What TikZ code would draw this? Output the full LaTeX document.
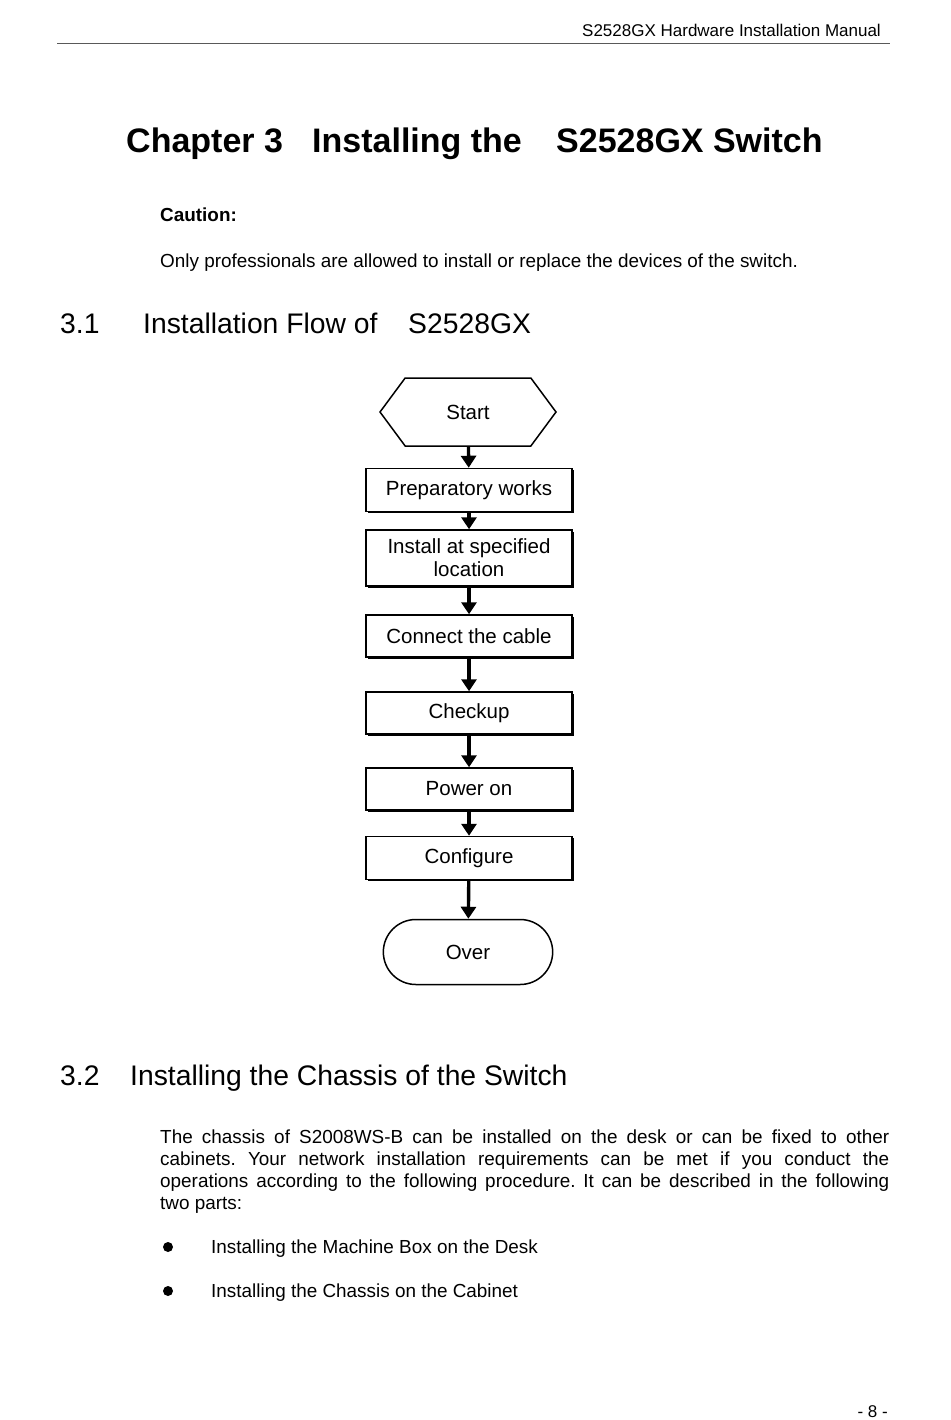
\documentclass[tikz,border=0pt]{standalone}
\usepackage{fontspec}
\setmainfont{Liberation Sans}
\usetikzlibrary{arrows.meta,shapes.symbols,shapes.misc,shadows}

\tikzset{
  txt/.style={inner sep=0pt, anchor=base west},
  flowbox/.style={draw, line width=1.5pt, fill=white, minimum width=206pt,
    minimum height=43pt, inner sep=2pt, align=center,
    font=\fontsize{20.5}{23}\selectfont,
    drop shadow={shadow xshift=1.6pt, shadow yshift=-1.6pt, fill=black, opacity=1}},
  flowend/.style={draw, line width=1.5pt, fill=white, minimum width=176pt,
    font=\fontsize{20.5}{23}\selectfont},
  flowarrow/.style={line width=3.4pt, -{Triangle[width=15pt,length=12pt]}},
}

\begin{document}
\frenchspacing
\begin{tikzpicture}[x=1pt, y=-1pt]
	
	% Seitenrahmen
	\useasboundingbox (0,0) rectangle (950,1420);
	
	% Kopfzeile
	\node[inner sep=0pt, anchor=base east, font=\fontsize{17}{20}\selectfont] (kopf) at (881,37) {S2528GX Hardware Installation Manual};
	\draw[line width=0.8pt, gray!70!black] (57,43) -- (890,43);
	
	% Kapitelüberschrift
	\node[txt, font=\fontsize{34}{40}\bfseries] (kap) at (126,153) {Chapter 3};
	\node[txt, font=\fontsize{34}{40}\bfseries] (kapa) at (312,153) {Installing the};
	\node[txt, font=\fontsize{34}{40}\bfseries] (kapb) at (556,153) {S2528GX Switch};
	
	\node[txt, font=\fontsize{18.9}{22}\bfseries] (caution) at (160,222) {Caution:};
	\node[txt, font=\fontsize{18.9}{22}\selectfont] (hinweis) at (160,268) {Only professionals are allowed to install or replace the devices of the switch.};
	
	% Abschnitt 3.1
	\node[txt, font=\fontsize{28.3}{33}\selectfont] (abs1) at (60,333) {3.1};
	\node[txt, font=\fontsize{28.3}{33}\selectfont] (abs1a) at (143,333) {Installation Flow of};
	\node[txt, font=\fontsize{28.3}{33}\selectfont] (abs1b) at (408,333) {S2528GX};
	
	% Ablaufdiagramm
	\node[flowend, signal, signal to=west and east, signal pointer angle=107, minimum height=68pt] (start) at (468,412) {Start};
	\node[flowbox] (prep) at (469,490) {Preparatory works};
	\node[flowbox, minimum height=56pt] (install) at (469,558) {Install at specified\\location};
	\node[flowbox, minimum height=42pt] (cable) at (469,636) {Connect the cable};
	\node[flowbox, minimum height=42pt] (check) at (469,713) {Checkup};
	\node[flowbox, minimum height=42pt] (power) at (469,789) {Power on};
	\node[flowbox, minimum height=43pt] (config) at (469,858) {Configure};
	\node[flowend, rounded rectangle, minimum height=65pt] (over) at (468,952) {Over};
	
	\draw[flowarrow] (start) -- (prep);
	\draw[flowarrow] (prep) -- (install);
	\draw[flowarrow] (install) -- (cable);
	\draw[flowarrow] (cable) -- (check);
	\draw[flowarrow] (check) -- (power);
	\draw[flowarrow] (power) -- (config);
	\draw[flowarrow] (config) -- (over);
	
	% Abschnitt 3.2
	\node[txt, font=\fontsize{28.3}{33}\selectfont] (abs2) at (60,1085) {3.2};
	\node[txt, font=\fontsize{28.3}{33}\selectfont] (abs2a) at (130,1085) {Installing the Chassis of the Switch};
	
	\node[inner sep=0pt, anchor=north west, text width=729pt, align=justify,
	  font=\fontsize{18.9}{22}\selectfont] (absatz) at (160,1130)
	  {The chassis of S2008WS-B can be installed on the desk or can be fixed to other\linebreak
	   cabinets. Your network installation requirements can be met if you conduct the\linebreak
	   operations according to the following procedure. It can be described in the following\linebreak
	   two parts:};
	
	% Aufzählung
	\node[circle, fill=black, inner sep=0pt, minimum size=10pt] (punkt1) at (168,1247) {};
	\node[txt, font=\fontsize{18.9}{22}\selectfont] (teil1) at (211,1253) {Installing the Machine Box on the Desk};
	\node[circle, fill=black, inner sep=0pt, minimum size=10pt] (punkt2) at (168,1291) {};
	\node[txt, font=\fontsize{18.9}{22}\selectfont] (teil2) at (211,1297) {Installing the Chassis on the Cabinet};
	
	% Seitenzahl
	\node[inner sep=0pt, anchor=base east, font=\fontsize{17}{20}\selectfont] (seite) at (888,1417) {- 8 -};
	
\end{tikzpicture}
\end{document}
